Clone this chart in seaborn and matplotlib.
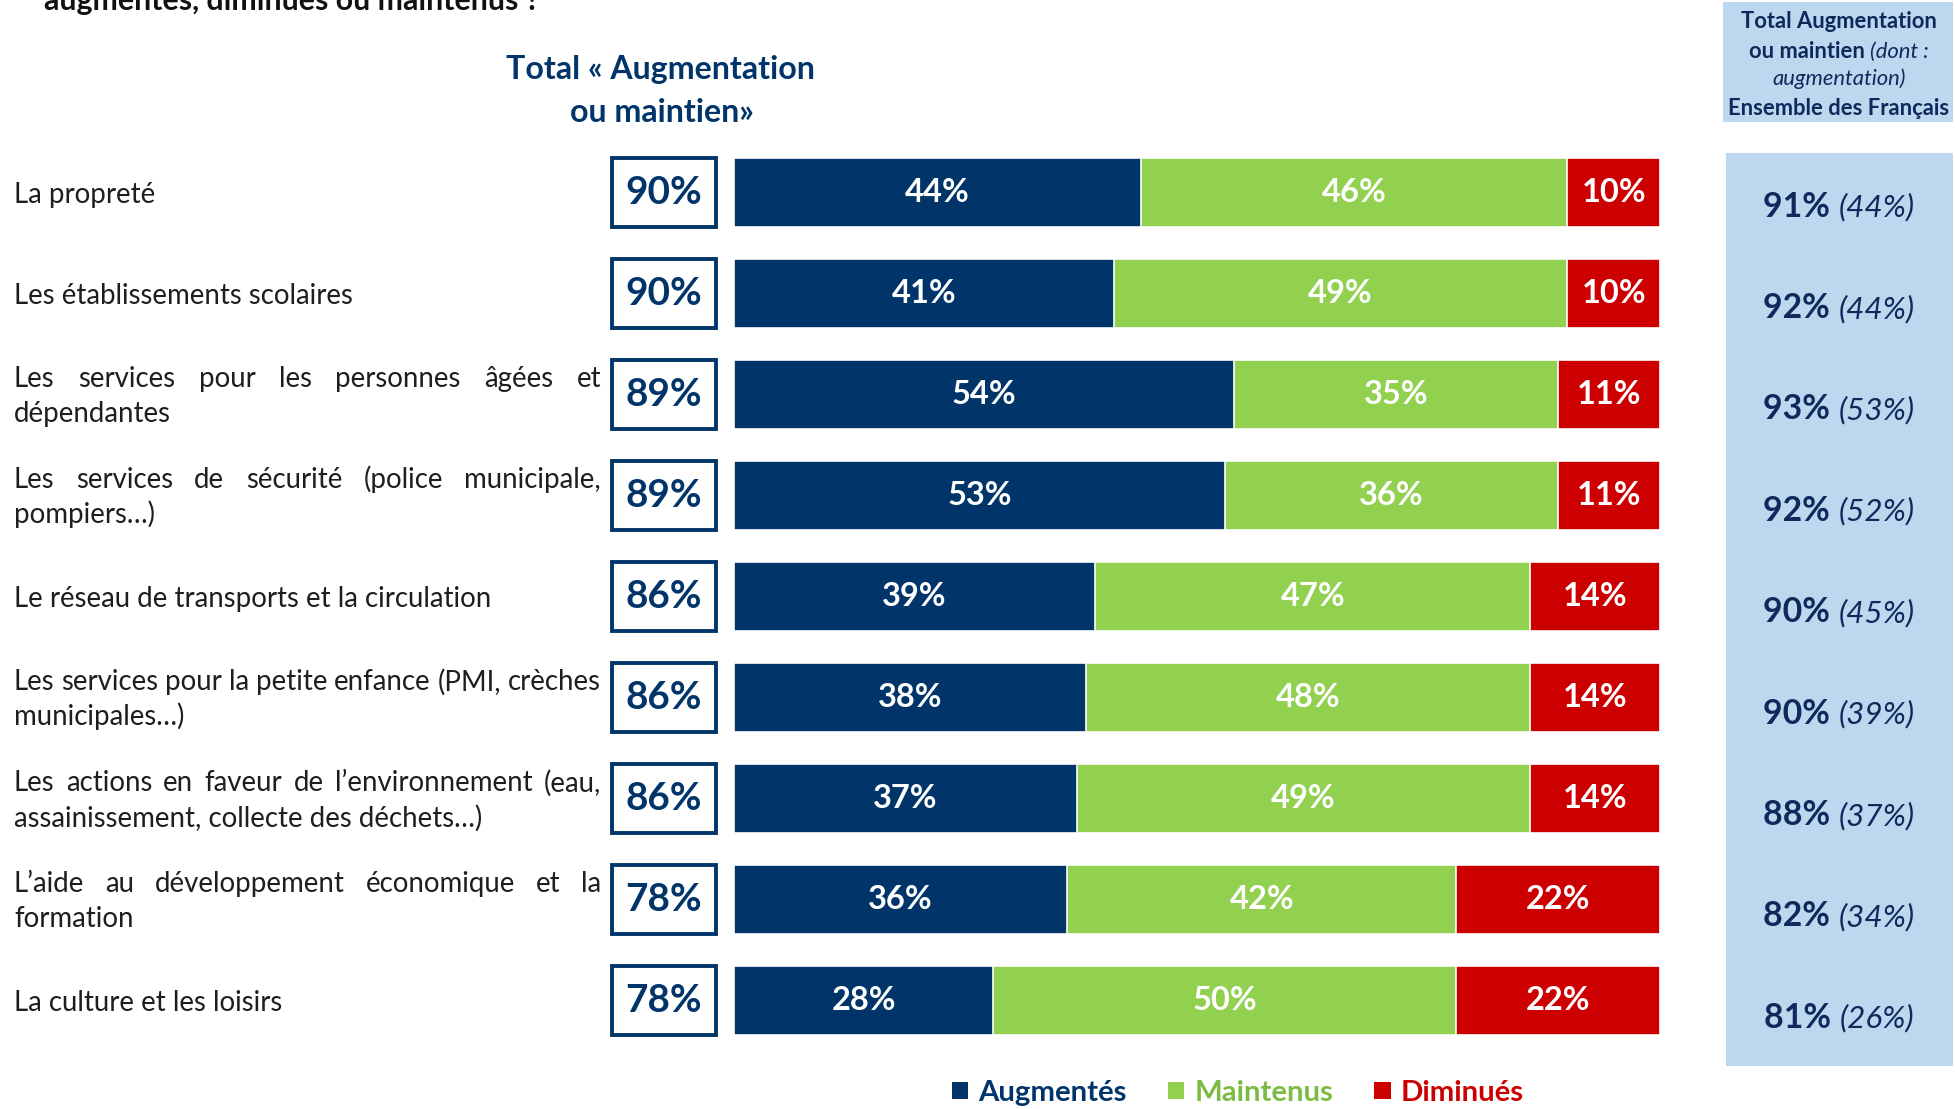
import numpy as np
import pandas as pd
import matplotlib
matplotlib.use("Agg")
import matplotlib.pyplot as plt
import matplotlib.transforms as mtransforms
from matplotlib.patches import Rectangle, Patch
import seaborn as sns

# ---- data ---------------------------------------------------------------
label_lines = [
    ["La propreté"],
    ["Les établissements scolaires"],
    ["Les services pour les personnes âgées et", "dépendantes"],
    ["Les services de sécurité (police municipale,", "pompiers…)"],
    ["Le réseau de transports et la circulation"],
    ["Les services pour la petite enfance (PMI, crèches", "municipales…)"],
    ["Les actions en faveur de l’environnement (eau,", "assainissement, collecte des déchets…)"],
    ["L’aide au développement économique et la", "formation"],
    ["La culture et les loisirs"],
]
categories = [" ".join(l) for l in label_lines]
augmentes = [44, 41, 54, 53, 39, 38, 37, 36, 28]
maintenus = [46, 49, 35, 36, 47, 48, 49, 42, 50]
diminues = [10, 10, 11, 11, 14, 14, 14, 22, 22]
total_aug_maint = [90, 90, 89, 89, 86, 86, 86, 78, 78]
ensemble_total = [91, 92, 93, 92, 90, 90, 88, 82, 81]
ensemble_aug = [44, 44, 53, 52, 45, 39, 37, 34, 26]
legend_labels = ["Augmentés", "Maintenus", "Diminués"]

# ---- style ----------------------------------------------------------------
NAVY = "#01356A"
GREEN = "#92D050"
RED = "#CC0000"
TXT = "#1E1E1E"
DARKNAVY = "#0E2A5C"
PANEL = "#BDD7EE"
LEG_GREEN = "#7CBB44"

sns.set_theme(style="white")
plt.rcParams["font.family"] = ["Lato", "DejaVu Sans"]

W, H = 1955, 1109
fig = plt.figure(figsize=(W / 100, H / 100), dpi=100)
renderer = fig.canvas.get_renderer()


def fx(px):
    return px / W


def fy(py):
    return 1 - py / H


def text_width(s, size, **kw):
    t = fig.text(0, 0, s, fontsize=size, **kw)
    w = t.get_window_extent(renderer).width
    t.remove()
    return w


def fit(s, target, **kw):
    return 10 * target / text_width(s, 10, **kw)


# ---- stacked bars -------------------------------------------------------
ax_top, ax_bot = 142, 1051
ax = fig.add_axes([fx(734), fy(ax_bot), fx(1660) - fx(734), (ax_bot - ax_top) / H])

df = pd.DataFrame({"cat": categories, "aug": augmentes, "maint": maintenus, "dim": diminues})
df["c2"] = df["aug"] + df["maint"]
df["c3"] = df["c2"] + df["dim"]

for col, colr in [("c3", RED), ("c2", GREEN), ("aug", NAVY)]:
    sns.barplot(data=df, y="cat", x=col, color=colr, orient="h", width=0.68,
                saturation=1, edgecolor="white", linewidth=1.2, ax=ax)

ax.set_xlim(0, 100)
ax.set_ylim(len(categories) - 0.5, -0.5)
ax.axis("off")

bar_size = fit("44%", 65, weight="bold")
for i in range(len(categories)):
    starts = [0, augmentes[i], augmentes[i] + maintenus[i]]
    for s, v in zip(starts, [augmentes[i], maintenus[i], diminues[i]]):
        ax.text(s + v / 2, i, f"{v}%", ha="center", va="center", color="white",
                fontsize=bar_size, fontweight="bold")

# ---- boxed totals ---------------------------------------------------------
blend = mtransforms.blended_transform_factory(ax.transAxes, ax.transData)
ax_w = 1660 - 734
bx0 = (612 - 734) / ax_w
bx1 = (716 - 734) / ax_w
box_size = fit("90%", 77, weight="bold")
for i, v in enumerate(total_aug_maint):
    ax.add_patch(Rectangle((bx0, i - 0.345), bx1 - bx0, 0.69, transform=blend,
                           facecolor="white", edgecolor=NAVY, linewidth=2.8,
                           clip_on=False))
    ax.text((bx0 + bx1) / 2, i, f"{v}%", transform=blend, ha="center", va="center",
            fontsize=box_size, fontweight="bold", color=NAVY)

# ---- justified row labels ------------------------------------------------
lab_size = fit("Le réseau de transports et la circulation", 478)
cap_half = 0.36 * lab_size * 100 / 72
LX0, LX1 = 14, 601
row_pitch = (ax_bot - ax_top) / len(categories)


def row_center(i):
    return ax_top + row_pitch * (i + 0.5)


def draw_line(line, y, justify):
    base = fy(y + cap_half)
    if not justify:
        fig.text(fx(LX0), base, line, fontsize=lab_size, color=TXT, va="baseline", ha="left")
        return
    words = line.split(" ")
    widths = [text_width(w, lab_size) for w in words]
    gap = (LX1 - LX0 - sum(widths)) / (len(words) - 1)
    x = LX0
    for w, wd in zip(words, widths):
        fig.text(fx(x), base, w, fontsize=lab_size, color=TXT, va="baseline", ha="left")
        x += wd + gap


for i, lines in enumerate(label_lines):
    yc = row_center(i)
    if len(lines) == 1:
        draw_line(lines[0], yc + 1, False)
    else:
        draw_line(lines[0], yc - 17, True)
        draw_line(lines[1], yc + 18, False)

# ---- column header above boxes -----------------------------------------
title_size = fit("Total « Augmentation", 309, weight="bold")
fig.text(fx(660), fy(70), "Total « Augmentation", ha="center", va="center",
         fontsize=title_size, fontweight="bold", color=NAVY)
fig.text(fx(662), fy(112), "ou maintien»", ha="center", va="center",
         fontsize=title_size, fontweight="bold", color=NAVY)

# question text running off the top edge
q_size = fit("augmentés, diminués ou maintenus ?", 495, weight="bold")
fig.text(fx(44), fy(10), "augmentés, diminués ou maintenus ?", ha="left", va="baseline",
         fontsize=q_size, fontweight="bold", color="#111111")

# ---- right-hand panel: whole population ----------------------------------
fig.add_artist(Rectangle((fx(1723), fy(122)), fx(1953) - fx(1723), 120 / H,
                         transform=fig.transFigure, facecolor=PANEL, edgecolor="none"))
fig.add_artist(Rectangle((fx(1726), fy(1066)), fx(1953) - fx(1726), (1066 - 153) / H,
                         transform=fig.transFigure, facecolor=PANEL, edgecolor="none"))

hdr_size = fit("Ensemble des Français", 222, weight="bold")
PCX = 1839


def two_part(parts, cx, y, size_list):
    # parts: list of (text, weight, style); centred together on cx
    ws = [text_width(t, sz, fontweight=wt, fontstyle=st)
          for (t, wt, st), sz in zip(parts, size_list)]
    x = cx - sum(ws) / 2
    for (t, wt, st), wd, sz in zip(parts, ws, size_list):
        fig.text(fx(x), fy(y), t, fontsize=sz, fontweight=wt, fontstyle=st,
                 color=DARKNAVY, ha="left", va="baseline")
        x += wd


hdr_cap = 0.36 * hdr_size * 100 / 72
two_part([("Total Augmentation", "bold", "normal")], PCX, 20 + hdr_cap, [hdr_size])
two_part([("ou maintien ", "bold", "normal"), ("(dont :", "normal", "italic")],
         PCX, 50 + hdr_cap, [hdr_size, hdr_size])
two_part([("augmentation)", "normal", "italic")], PCX, 77 + hdr_cap, [hdr_size])
two_part([("Ensemble des Français", "bold", "normal")], PCX, 107 + hdr_cap, [hdr_size])

val_size = fit("91%", 67, weight="bold")
sub_size = fit("(44%)", 76, style="italic")
val_cap = 0.36 * val_size * 100 / 72
for i, (t, a) in enumerate(zip(ensemble_total, ensemble_aug)):
    y = row_center(i) + 12 + i * 0.4
    two_part([(f"{t}% ", "bold", "normal"), (f"({a}%)", "normal", "italic")],
             PCX, y + val_cap, [val_size, sub_size])

# ---- legend ------------------------------------------------------------------
leg_size = fit("Augmentés", 149, weight="bold")
handles = [Patch(facecolor=c, edgecolor="none") for c in (NAVY, GREEN, RED)]
leg = fig.legend(handles, legend_labels, loc="center", bbox_to_anchor=(fx(1238), fy(1093)),
                 ncol=3, frameon=False, handlelength=0.55, handleheight=0.55,
                 handletextpad=0.35, columnspacing=1.4,
                 prop={"weight": "bold", "size": leg_size})
for t, c in zip(leg.get_texts(), (NAVY, LEG_GREEN, RED)):
    t.set_color(c)

fig.savefig("out.png", dpi=100, facecolor="white")
